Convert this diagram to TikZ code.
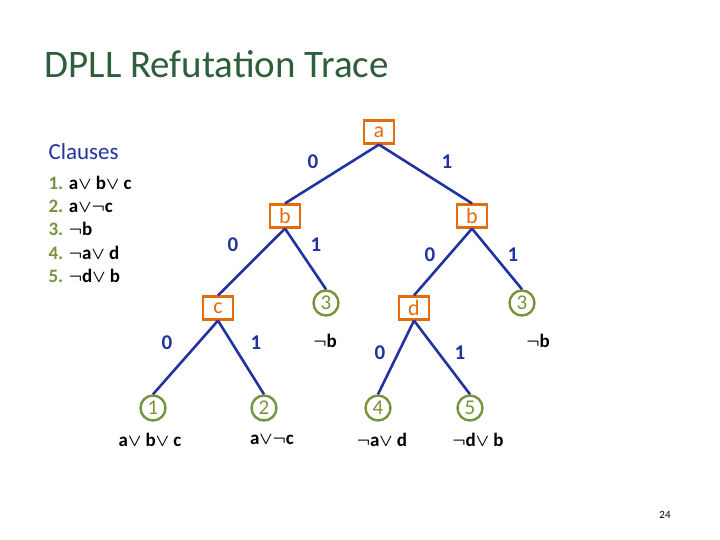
\documentclass[tikz,border=0pt]{standalone}
\usepackage{fontspec}
\setmainfont{Carlito}
\usepackage{amssymb}
\definecolor{tblue}{HTML}{2233A0}
\definecolor{torange}{HTML}{E46C0A}
\definecolor{tgreen}{HTML}{77933C}
\definecolor{ttitle}{HTML}{2F5F3A}
\newcommand{\nt}{$\boldsymbol{\neg}$}
\newcommand{\orr}{$\boldsymbol{\vee}$}
\usepackage{amsmath}
\begin{document}
\begin{tikzpicture}[x=1pt,y=-1pt,
	var/.style={draw=torange, line width=2.2pt, text=torange, minimum width=30pt, minimum height=23pt, inner sep=0pt, font=\fontsize{22}{22}\selectfont},
	cls/.style={draw=tgreen, circle, line width=2.4pt, text=tgreen, minimum size=25pt, inner sep=0pt, font=\fontsize{21}{21}\selectfont},
	edge/.style={tblue, line width=2.6pt},
	lbl/.style={text=tblue, font=\bfseries\fontsize{21}{21}\selectfont},
	txt/.style={font=\bfseries\fontsize{19}{19}\selectfont}]
	\useasboundingbox (0,0) rectangle (720,540);
	\node[anchor=west, text=ttitle, font=\fontsize{39}{39}\selectfont] (title) at (41,64) {DPLL Refutation Trace};
	\node[anchor=west, text=tblue, font=\fontsize{23}{23}\selectfont] (clauses) at (45,152) {Clauses};
	\node[anchor=west, txt] (c1) at (45,183) {\textcolor{tgreen}{1.} a\orr{} b\orr{} c};
	\node[anchor=west, txt] (c2) at (45,206) {\textcolor{tgreen}{2.} a\orr\nt c};
	\node[anchor=west, txt] (c3) at (45,229) {\textcolor{tgreen}{3.} \nt b};
	\node[anchor=west, txt] (c4) at (45,253) {\textcolor{tgreen}{4.} \nt a\orr{} d};
	\node[anchor=west, txt] (c5) at (45,276) {\textcolor{tgreen}{5.} \nt d\orr{} b};
	% decision nodes
	\node[var] (a) at (379,132) {a};
	\node[var] (bl) at (285,216) {b};
	\node[var] (br) at (472,216) {b};
	\node[var] (c) at (218,308) {c};
	\node[var] (d) at (414,308) {d};
	% conflict clauses
	\node[cls] (k3l) at (326,303) {3};
	\node[cls] (k3r) at (522,303) {3};
	\node[cls] (k1) at (153,408) {1};
	\node[cls] (k2) at (264,408) {2};
	\node[cls] (k4) at (378,408) {4};
	\node[cls] (k5) at (470,408) {5};
	% edges
	\draw[edge] (a.south) -- (bl.north);
	\draw[edge] (a.south) -- (br.north);
	\draw[edge] (bl.south) -- (c.north);
	\draw[edge] (bl.south) -- (k3l.north);
	\draw[edge] (br.south) -- (d.north);
	\draw[edge] (br.south) -- (k3r.north);
	\draw[edge] (c.south) -- (k1.north);
	\draw[edge] (c.south) -- (k2.north);
	\draw[edge] (d.south) -- (k4.north);
	\draw[edge] (d.south) -- (k5.north);
	% edge labels
	\node[lbl] (l1) at (313,162) {0};
	\node[lbl] (l2) at (447,162) {1};
	\node[lbl] (l3) at (233,245) {0};
	\node[lbl] (l4) at (316,245) {1};
	\node[lbl] (l5) at (430,255) {0};
	\node[lbl] (l6) at (513,255) {1};
	\node[lbl] (l7) at (167,343) {0};
	\node[lbl] (l8) at (256,343) {1};
	\node[lbl] (l9) at (380,353) {0};
	\node[lbl] (l10) at (460,353) {1};
	% clause texts
	\node[txt] (t3l) at (325,341) {\nt b};
	\node[txt] (t3r) at (538,341) {\nt b};
	\node[txt] (t1) at (150,440) {a\orr{} b\orr{} c};
	\node[txt] (t2) at (272,440) {a\orr\nt c};
	\node[txt] (t4) at (382,440) {\nt a\orr{} d};
	\node[txt] (t5) at (478,440) {\nt d\orr{} b};
	\node[font=\rmfamily\fontsize{11}{11}\selectfont] (page) at (665,515) {24};
\end{tikzpicture}
\end{document}
